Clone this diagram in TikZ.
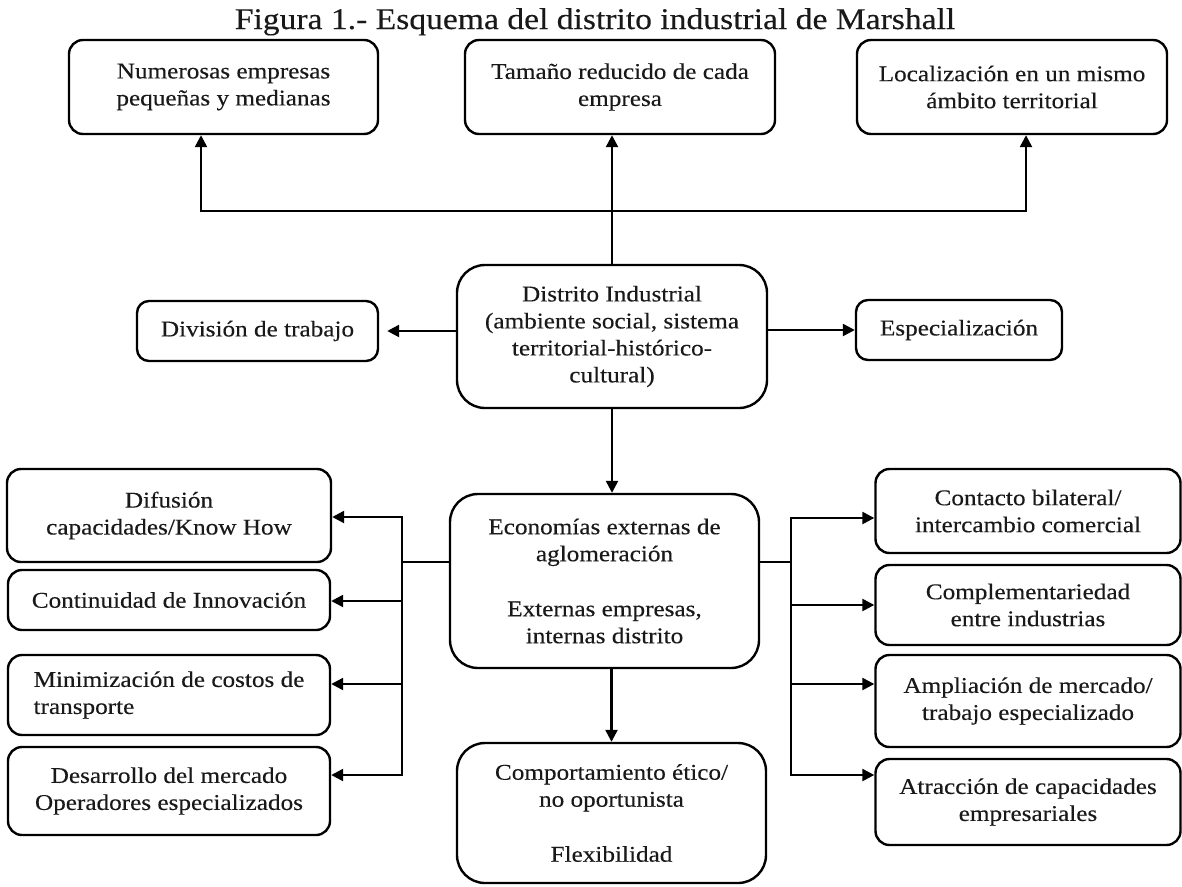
\documentclass[tikz,border=0pt]{standalone}
\usepackage{fontspec}
\setmainfont[FakeStretch=1.12,FakeBold=0.3]{Liberation Serif}
\usetikzlibrary{arrows.meta}
\newcommand\myfs{\fontsize{22.5}{27}\selectfont}
\newcommand\mytitlefs{\fontsize{30}{36}\selectfont}
\begin{document}
\begin{tikzpicture}[x=1pt,y=-1pt,
  box/.style={draw, line width=2.4pt, rounded corners=14pt, align=center, inner sep=0pt, font=\myfs, text=black!90},
  bigbox/.style={box, rounded corners=28pt},
  conn/.style={line width=2.4pt},
  arr/.style={conn, -{Triangle[length=12pt,width=12pt]}},
  arrboth/.style={conn, {Triangle[length=12pt,width=12pt]}-{Triangle[length=12pt,width=12pt]}}]
\useasboundingbox (0,0) rectangle (1182,886);
\node[font=\mytitlefs, anchor=base, text=black!90] (title) at (595,29) {Figura 1.- Esquema del distrito industrial de Marshall};
% top row
\node[box, minimum width=309pt, minimum height=94pt] (num) at (223.5,87) {Numerosas empresas\\pequeñas y medianas};
\node[box, minimum width=310pt, minimum height=94pt] (tam) at (620,87) {Tamaño reducido de cada\\empresa};
\node[box, minimum width=310pt, minimum height=94pt] (loc) at (1012,87) {Localización en un mismo\\ámbito territorial};
% middle row
\node[box, rounded corners=12pt, minimum width=241pt, minimum height=60pt] (div) at (257.5,331) {División de trabajo};
\node[bigbox, minimum width=310pt, minimum height=143pt] (dist) at (612,336.5) {Distrito Industrial\\(ambiente social, sistema\\territorial-histórico-\\cultural)};
\node[box, rounded corners=12pt, minimum width=206pt, minimum height=60pt] (esp) at (959,330) {Especialización};
% economies
\node[bigbox, minimum width=309pt, minimum height=174pt] (eco) at (604.5,581) {Economías externas de\\aglomeración\\[28pt]Externas empresas,\\internas distrito};
\node[bigbox, minimum width=309pt, minimum height=140pt] (com) at (611.5,813) {Comportamiento ético/\\no oportunista\\[28pt]Flexibilidad};
% left column
\node[box, minimum width=324pt, minimum height=93pt] (dif) at (169,515.5) {Difusión\\capacidades/Know How};
\node[box, minimum width=322pt, minimum height=60pt] (con) at (169,600) {Continuidad de Innovación};
\node[box, align=left, minimum width=322pt, minimum height=80pt] (min) at (169,695) {Minimización de costos de\\transporte};
\node[box, minimum width=322pt, minimum height=88pt] (des) at (169,791) {Desarrollo del mercado\\Operadores especializados};
% right column
\node[box, minimum width=305pt, minimum height=84pt] (cta) at (1028,511) {Contacto bilateral/\\intercambio comercial};
\node[box, minimum width=305pt, minimum height=80pt] (cmp) at (1028,605) {Complementariedad\\entre industrias};
\node[box, minimum width=305pt, minimum height=92pt] (amp) at (1028,701) {Ampliación de mercado/\\trabajo especializado};
\node[box, minimum width=305pt, minimum height=86pt] (atr) at (1028,802) {Atracción de capacidades\\empresariales};
% coordinates
\coordinate (hl) at (201,211);
\coordinate (hr) at (1026,211);
\coordinate (lb) at (402,562);
\coordinate (l1) at (402,517);
\coordinate (l2) at (402,601);
\coordinate (l3) at (402,684);
\coordinate (l4) at (402,775);
\coordinate (rb) at (791,562);
\coordinate (r1) at (791,518);
\coordinate (r2) at (791,605);
\coordinate (r3) at (791,684);
\coordinate (r4) at (791,775);
% connectors top
\draw[arrboth] (hl |- num.south) -- (hl) -- (hr) -- (hr |- loc.south);
\draw[arr] (dist.north) -- (dist.north |- tam.south);
\draw[arr, shorten >=8pt] (dist.west |- div.east) -- (div.east);
\draw[arr] (dist.east |- esp.west) -- (esp.west);
\draw[arr] (dist.south) -- (dist.south |- eco.north);
\draw[arr] (eco.south -| com.north) -- (com.north);
% left bus
\draw[conn] (eco.west |- lb) -- (lb);
\draw[arrboth] (l1 -| dif.east) -- (l1) -- (l4) -- (l4 -| des.east);
\draw[arr] (l2) -- (l2 -| con.east);
\draw[arr] (l3) -- (l3 -| min.east);
% right bus
\draw[conn] (eco.east |- rb) -- (rb);
\draw[arrboth] (r1 -| cta.west) -- (r1) -- (r4) -- (r4 -| atr.west);
\draw[arr] (r2) -- (r2 -| cmp.west);
\draw[arr] (r3) -- (r3 -| amp.west);
\end{tikzpicture}
\end{document}
